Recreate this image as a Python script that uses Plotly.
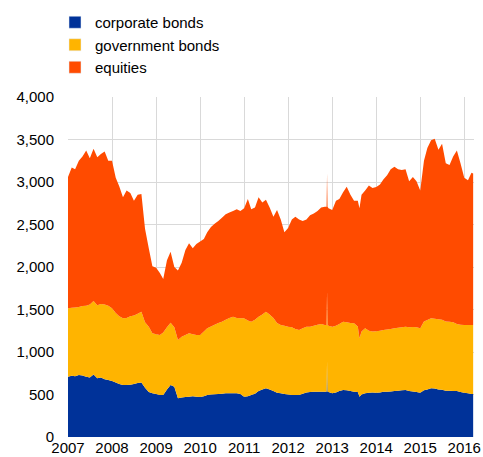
import plotly.graph_objects as go

dates = [
    "2007-01-01","2007-02-01","2007-03-01","2007-04-01","2007-05-01","2007-06-01",
    "2007-07-01","2007-08-01","2007-09-01","2007-10-01","2007-11-01","2007-12-01",
    "2008-01-01","2008-02-01","2008-03-01","2008-04-01","2008-05-01","2008-06-01",
    "2008-07-01","2008-08-01","2008-09-01","2008-10-01","2008-11-01","2008-12-01",
    "2009-01-01","2009-02-01","2009-03-01","2009-04-01","2009-05-01","2009-06-01",
    "2009-07-01","2009-08-01","2009-09-01","2009-10-01","2009-11-01","2009-12-01",
    "2010-01-01","2010-02-01","2010-03-01","2010-04-01","2010-05-01","2010-06-01",
    "2010-07-01","2010-08-01","2010-09-01","2010-10-01","2010-11-01","2010-12-01",
    "2011-01-01","2011-02-01","2011-03-01","2011-04-01","2011-05-01","2011-06-01",
    "2011-07-01","2011-08-01","2011-09-01","2011-10-01","2011-11-01","2011-12-01",
    "2012-01-01","2012-02-01","2012-03-01","2012-04-01","2012-05-01","2012-06-01",
    "2012-07-01","2012-08-01","2012-09-01","2012-10-01","2012-11-01",
    "2012-11-15","2012-11-19","2012-11-23","2012-12-01",
    "2013-01-01","2013-02-01","2013-03-01","2013-04-01","2013-05-01","2013-06-01",
    "2013-07-01","2013-08-01","2013-08-15","2013-09-01","2013-10-01","2013-11-01","2013-12-01",
    "2014-01-01","2014-02-01","2014-03-01","2014-04-01","2014-05-01","2014-06-01",
    "2014-07-01","2014-08-01","2014-09-01","2014-10-01","2014-11-01","2014-12-01",
    "2015-01-01","2015-02-01","2015-03-01","2015-04-01","2015-05-01","2015-06-01",
    "2015-07-01","2015-08-01","2015-09-01","2015-10-01","2015-11-01","2015-12-01",
    "2016-01-01","2016-02-01","2016-03-01","2016-03-15",
]

corporate_bonds = [
    710, 720, 715, 730, 725, 710, 700, 735, 690, 700, 680, 670,
    660, 640, 625, 612, 612, 615, 625, 635, 640, 580, 530, 514,
    505, 494, 494, 560, 612, 590, 455, 465, 470, 475, 480, 475,
    470, 480, 495, 500, 502, 505, 510, 514, 514, 514, 514, 505,
    475, 480, 494, 510, 540, 560, 573, 560, 540, 520, 514, 505,
    500, 494, 494, 494, 510, 525, 530, 533, 533, 533, 533,
    533, 886, 533, 530,
    514, 525, 540, 553, 550, 540, 533, 530, 475, 500, 514, 520, 525,
    520, 525, 533, 533, 535, 540, 545, 550, 553, 540, 535, 530,
    522, 550, 560, 573, 570, 560, 555, 545, 545, 540, 540, 530,
    522, 515, 506, 506,
]

government_bonds = [
    804, 800, 810, 800, 815, 835, 860, 865, 860, 865, 880, 875,
    854, 820, 795, 784, 788, 805, 805, 815, 835, 770, 768, 706,
    705, 706, 736, 730, 733, 700, 686, 715, 730, 745, 730, 725,
    730, 760, 783, 800, 818, 835, 847, 866, 886, 902, 886, 891,
    921, 890, 863, 870, 876, 880, 901, 880, 860, 820, 804, 805,
    798, 796, 776, 765, 770, 773, 768, 777, 787, 797, 785,
    785, 824, 785, 780,
    784, 785, 790, 804, 800, 800, 804, 770, 686, 740, 764, 730, 715,
    725, 725, 726, 732, 735, 738, 740, 740, 745, 750, 760, 760,
    756, 810, 816, 823, 820, 825, 825, 815, 812, 810, 790, 790,
    796, 803, 812, 812,
]

equities = [
    1546, 1650, 1625, 1720, 1760, 1825, 1720, 1790, 1740, 1765, 1800, 1705,
    1736, 1590, 1530, 1424, 1500, 1450, 1350, 1400, 1385, 1100, 922, 790,
    780, 730, 630, 790, 835, 710, 819, 870, 1000, 1060, 1010, 1070,
    1100, 1090, 1132, 1170, 1190, 1200, 1223, 1240, 1240, 1244, 1280, 1264,
    1294, 1430, 1323, 1320, 1404, 1320, 1316, 1260, 1190, 1330, 1242, 1100,
    1162, 1270, 1320, 1301, 1260, 1262, 1312, 1320, 1340, 1370, 1392,
    1392, 1390, 1392, 1380,
    1372, 1470, 1470, 1523, 1595, 1510, 1443, 1480, 1529, 1610, 1622, 1710, 1690,
    1695, 1720, 1771, 1815, 1880, 1902, 1865, 1850, 1852, 1720, 1765, 1720,
    1622, 1890, 2024, 2094, 2120, 1995, 2070, 1860, 1843, 1950, 2040, 1900,
    1732, 1702, 1792, 1782,
]

series_names = ["corporate bonds", "government bonds", "equities"]
series_colors = ["#003299", "#FFB400", "#FF4B00"]
series_values = [corporate_bonds, government_bonds, equities]

year_ticks = ["2007", "2008", "2009", "2010", "2011", "2012", "2013", "2014", "2015", "2016"]

fig = go.Figure()
for name, color, vals in zip(series_names, series_colors, series_values):
    fig.add_trace(go.Scatter(
        x=dates, y=vals, name=name, stackgroup="one",
        mode="none", fillcolor=color, line=dict(width=0),
        showlegend=False, hoverinfo="x+y+name",
    ))
for name, color in zip(series_names, series_colors):
    fig.add_trace(go.Bar(x=[None], y=[None], name=name, marker_color=color,
                         showlegend=True))

fig.update_layout(
    width=483, height=457,
    margin=dict(l=68, r=9, t=97, b=20, autoexpand=False),
    paper_bgcolor="white", plot_bgcolor="white",
    font=dict(family="Liberation Sans, Arial, sans-serif", size=15, color="#000000"),
    showlegend=True,
    legend=dict(xref="container", yref="container",
                x=55 / 483, y=1 - 6 / 457, xanchor="left", yanchor="top",
                orientation="v", bgcolor="rgba(0,0,0,0)",
                font=dict(size=15, color="#000000"),
                traceorder="normal", itemwidth=30, tracegroupgap=0),
    barmode="overlay",
)

fig.update_xaxes(
    type="date",
    range=["2007-01-01", "2016-03-22"],
    tickvals=[f"{y}-01-01" for y in year_ticks],
    ticktext=year_ticks,
    showgrid=True, gridcolor="#d9d9d9", gridwidth=1,
    showline=False, zeroline=False,
    ticks="", ticklabelstandoff=0, automargin=False,
    tickfont=dict(size=15),
)
fig.update_yaxes(
    range=[0, 4000], dtick=500, tickformat=",",
    showgrid=True, gridcolor="#d9d9d9", gridwidth=1,
    zeroline=False, showline=False, ticks="",
    ticklabelstandoff=13, automargin=False,
    tickfont=dict(size=15),
)

fig.write_html("out.html",
               config={"displayModeBar": False},
               post_script="document.body.style.margin='0';document.body.style.overflow='hidden';")
